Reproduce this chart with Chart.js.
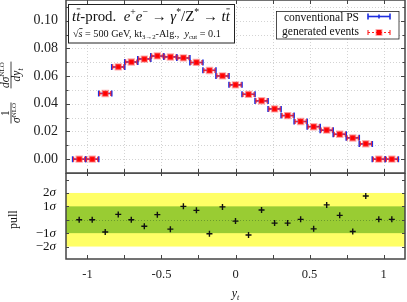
<!DOCTYPE html>
<html>
<head>
<meta charset="utf-8">
<script src="https://cdn.jsdelivr.net/npm/chart.js@4.4.1/dist/chart.umd.min.js"></script>
<style>
  html, body { margin: 0; padding: 0; background: #fff; }
  #wrap { position: relative; width: 407px; height: 302px; overflow: hidden; }
  #pullChart { position: absolute; left: 0; top: 173px; }
  #mainChart { position: absolute; left: 0; top: 0; }
</style>
</head>
<body>
<div id="wrap">
  <canvas id="pullChart" width="407" height="129"></canvas>
  <canvas id="mainChart" width="407" height="174"></canvas>
</div>
<script>
// bin centres (25 bins of width 0.088 from -1.1 to 1.1)
var binCenters = [-1.056, -0.968, -0.88, -0.792, -0.704, -0.616, -0.528, -0.44, -0.352, -0.264, -0.176, -0.088,
                  0, 0.088, 0.176, 0.264, 0.352, 0.44, 0.528, 0.616, 0.704, 0.792, 0.88, 0.968, 1.056];
var binHalfWidth = 0.044;
var convPS    = [0.000, 0.000, 0.0475, 0.0666, 0.0702, 0.0724, 0.0745, 0.0739, 0.0731, 0.0698, 0.0642, 0.0601, 0.0537,
                 0.0469, 0.0421, 0.0363, 0.0315, 0.0272, 0.0235, 0.0209, 0.0180, 0.0154, 0.0110, 0.000, 0.000];
var genEvents = [0.000, 0.000, 0.0474, 0.0667, 0.0702, 0.0723, 0.0746, 0.0738, 0.0732, 0.0699, 0.0641, 0.0602, 0.0537,
                 0.0468, 0.0422, 0.0363, 0.0315, 0.0272, 0.0234, 0.0210, 0.0180, 0.0153, 0.0111, 0.000, 0.000];
var pullValues = [0.0, 0.0, -0.91, 0.40, 0.0, -0.48, 0.38, -0.70, 1.00, 0.70, -1.05, 0.96, -0.10,
                  -1.14, 0.73, -0.25, -0.25, 0.03, -0.68, 1.11, 0.33, -0.88, 1.77, 0.03, 0.03];
var xTicks = [-1, -0.75, -0.5, -0.25, 0, 0.25, 0.5, 0.75, 1];
var yTicks = [0, 0.02, 0.04, 0.06, 0.08, 0.10];
var yGrid = [0, 0.01, 0.02, 0.03, 0.04, 0.05, 0.06, 0.07, 0.08, 0.09, 0.10, 0.11];
var pullTicks = [-2, -1, 1, 2];

var SERIF = '"Liberation Serif", "DejaVu Serif", serif';
var FRAME = '#444';

function setFont(ctx, p) {
  ctx.font = (p.it ? 'italic ' : '') + p.s + 'px ' + SERIF;
}
function richWidth(ctx, parts) {
  var w = 0;
  parts.forEach(function (p) { setFont(ctx, p); p.w = ctx.measureText(p.t).width; w += p.w; });
  return w;
}
function drawRich(ctx, x, y, parts) {
  richWidth(ctx, parts);
  var cx = x;
  parts.forEach(function (p) {
    setFont(ctx, p);
    ctx.fillText(p.t, cx, y + (p.dy || 0));
    if (p.bar) {
      ctx.beginPath();
      ctx.lineWidth = 0.8;
      ctx.moveTo(cx + p.w * 0.15, y - p.s * 0.78);
      ctx.lineTo(cx + p.w * 1.0, y - p.s * 0.78);
      ctx.stroke();
    }
    cx += p.w;
  });
}
function scaled(parts, k) {
  return parts.map(function (p) { var q = Object.assign({}, p); q.s = p.s * k; if (q.dy) q.dy = p.dy * k; return q; });
}
function fitRich(ctx, x, y, parts, target) {
  var w = richWidth(ctx, parts);
  drawRich(ctx, x, y, scaled(parts, target / w));
}
function frac(ctx, cx, num, den) {
  var wn = richWidth(ctx, num), wd = richWidth(ctx, den);
  var w = Math.max(wn, wd);
  ctx.textBaseline = 'alphabetic';
  drawRich(ctx, cx - wn / 2, -2.5, num);
  drawRich(ctx, cx - wd / 2, 9, den);
  ctx.beginPath();
  ctx.lineWidth = 0.8;
  ctx.moveTo(cx - w / 2 - 0.5, 0);
  ctx.lineTo(cx + w / 2 + 0.5, 0);
  ctx.stroke();
}

function hBar(ctx, x0, x1, y, cap) {
  ctx.beginPath();
  ctx.moveTo(x0, y); ctx.lineTo(x1, y);
  ctx.stroke();
  ctx.setLineDash([]);
  ctx.beginPath();
  ctx.moveTo(x0, y - cap); ctx.lineTo(x0, y + cap);
  ctx.moveTo(x1, y - cap); ctx.lineTo(x1, y + cap);
  ctx.moveTo((x0 + x1) / 2, y - 2); ctx.lineTo((x0 + x1) / 2, y + 2);
  ctx.stroke();
}

var mainPlugin = {
  id: 'mainPanel',
  beforeDatasetsDraw: function (chart) {
    var ctx = chart.ctx, a = chart.chartArea, xs = chart.scales.x, ys = chart.scales.y;
    ctx.save();
    // dotted grid
    ctx.strokeStyle = '#c8c8c8';
    ctx.lineWidth = 0.8;
    ctx.setLineDash([1, 2]);
    xTicks.forEach(function (v) {
      var px = Math.round(xs.getPixelForValue(v)) + 0.5;
      ctx.beginPath(); ctx.moveTo(px, a.top); ctx.lineTo(px, a.bottom); ctx.stroke();
    });
    yGrid.forEach(function (v) {
      var py = Math.round(ys.getPixelForValue(v)) + 0.5;
      ctx.beginPath(); ctx.moveTo(a.left, py); ctx.lineTo(a.right, py); ctx.stroke();
    });
    ctx.setLineDash([]);
    // error bars: conventional PS (blue) then generated events (red dashed)
    var ps = chart.data.datasets[1].data, gen = chart.data.datasets[0].data;
    ps.forEach(function (d) {
      ctx.strokeStyle = '#1f2fe0';
      ctx.lineWidth = 1.6;
      hBar(ctx, xs.getPixelForValue(d.x - binHalfWidth), xs.getPixelForValue(d.x + binHalfWidth), ys.getPixelForValue(d.y), 3);
    });
    gen.forEach(function (d) {
      ctx.strokeStyle = '#ff2020';
      ctx.lineWidth = 1.1;
      ctx.setLineDash([2, 2]);
      hBar(ctx, xs.getPixelForValue(d.x - binHalfWidth) + 1, xs.getPixelForValue(d.x + binHalfWidth) - 1, ys.getPixelForValue(d.y), 2.5);
    });
    ctx.restore();
  },
  afterDraw: function (chart) {
    var ctx = chart.ctx, a = chart.chartArea, xs = chart.scales.x, ys = chart.scales.y;
    ctx.save();
    // frame
    ctx.strokeStyle = FRAME;
    ctx.lineWidth = 1.5;
    ctx.strokeRect(a.left, a.top, a.right - a.left, a.bottom - a.top);
    ctx.lineWidth = 1;
    ctx.beginPath();
    xTicks.forEach(function (v) {
      var px = Math.round(xs.getPixelForValue(v)) + 0.5;
      ctx.moveTo(px, a.top); ctx.lineTo(px, a.top + 4);
      ctx.moveTo(px, a.bottom); ctx.lineTo(px, a.bottom - 4);
    });
    yGrid.forEach(function (v, i) {
      var py = Math.round(ys.getPixelForValue(v)) + 0.5;
      var len = i % 2 === 0 ? 4 : 2.5;
      ctx.moveTo(a.left, py); ctx.lineTo(a.left + len, py);
      ctx.moveTo(a.right, py); ctx.lineTo(a.right - len, py);
    });
    ctx.stroke();

    // title box
    ctx.fillStyle = '#fff';
    ctx.fillRect(68, 4, 166, 39);
    ctx.strokeStyle = '#222';
    ctx.lineWidth = 1;
    ctx.strokeRect(68.5, 4.5, 166, 38.5);
    ctx.fillStyle = '#111';
    ctx.strokeStyle = '#111';
    ctx.textBaseline = 'alphabetic';
    fitRich(ctx, 72, 20.5, [
      { t: 't', s: 13, it: 1 }, { t: 't', s: 13, it: 1, bar: 1 }, { t: '-prod.  ', s: 13 },
      { t: 'e', s: 13, it: 1 }, { t: '+', s: 8.5, dy: -5 }, { t: 'e', s: 13, it: 1 }, { t: '\u2212', s: 8.5, dy: -5 },
      { t: ' \u2192 ', s: 13 }, { t: '\u03b3', s: 13, it: 1 }, { t: '*', s: 8.5, dy: -5 }, { t: '/Z', s: 13 },
      { t: '*', s: 8.5, dy: -5 }, { t: ' \u2192 ', s: 13 }, { t: 't', s: 13, it: 1 }, { t: 't', s: 13, it: 1, bar: 1 }
    ], 158);
    fitRich(ctx, 73, 36.5, [
      { t: '\u221a', s: 9 }, { t: 's', s: 9, it: 1, bar: 1 }, { t: ' = 500 GeV, kt', s: 9 }, { t: '3\u21922', s: 6, dy: 2 },
      { t: '-Alg.,  ', s: 9 }, { t: 'y', s: 9, it: 1 }, { t: 'cut', s: 6, dy: 2 }, { t: ' = 0.1', s: 9 }
    ], 148);

    // legend
    ctx.fillStyle = '#fff';
    ctx.fillRect(276, 11, 123, 28);
    ctx.strokeStyle = '#222';
    ctx.strokeRect(276.5, 11.5, 122.5, 27.5);
    ctx.fillStyle = '#111';
    ctx.font = '11.5px ' + SERIF;
    ctx.textAlign = 'right';
    ctx.fillText(chart.data.datasets[1].label, 359, 20.5);
    ctx.fillText(chart.data.datasets[0].label, 359, 34.5);
    ctx.textAlign = 'left';
    ctx.strokeStyle = '#1f2fe0';
    ctx.lineWidth = 1.6;
    hBar(ctx, 368, 390, 16.5, 3);
    ctx.strokeStyle = '#ff2020';
    ctx.lineWidth = 1.1;
    ctx.setLineDash([2, 2]);
    hBar(ctx, 368, 390, 32.5, 2.5);
    ctx.fillStyle = 'rgba(255,70,70,0.45)';
    ctx.fillRect(375.5, 29, 7, 7);
    ctx.fillStyle = '#ff0000';
    ctx.fillRect(376.5, 30, 5, 5);

    // y title
    ctx.fillStyle = '#111';
    ctx.strokeStyle = '#111';
    ctx.translate(11, 88);
    ctx.rotate(-Math.PI / 2);
    frac(ctx, -25, [{ t: '1', s: 11.5 }], [{ t: '\u03c3', s: 11.5, it: 1 }, { t: 'NLO', s: 7, dy: -4.5 }]);
    frac(ctx, 13, [{ t: 'd', s: 11.5, it: 1 }, { t: '\u03c3', s: 11.5, it: 1 }, { t: 'NLO', s: 7, dy: -4.5 }],
                  [{ t: 'd', s: 11.5, it: 1 }, { t: 'y', s: 11.5, it: 1 }, { t: 't', s: 7.5, it: 1, dy: 2.5 }]);
    ctx.restore();
  }
};

var pullPlugin = {
  id: 'pullPanel',
  beforeDatasetsDraw: function (chart) {
    var ctx = chart.ctx, a = chart.chartArea, ys = chart.scales.y;
    ctx.save();
    var y2a = ys.getPixelForValue(2), y2b = ys.getPixelForValue(-2);
    var y1a = ys.getPixelForValue(1), y1b = ys.getPixelForValue(-1);
    ctx.fillStyle = '#ffff66';
    ctx.fillRect(a.left, y2a, a.right - a.left, y2b - y2a);
    ctx.fillStyle = '#99cc33';
    ctx.fillRect(a.left, y1a, a.right - a.left, y1b - y1a);
    var y0 = Math.round(ys.getPixelForValue(0)) + 0.5;
    ctx.strokeStyle = '#5f8f2a';
    ctx.lineWidth = 0.8;
    ctx.setLineDash([1, 2]);
    ctx.beginPath(); ctx.moveTo(a.left, y0); ctx.lineTo(a.right, y0); ctx.stroke();
    ctx.restore();
  },
  afterDraw: function (chart) {
    var ctx = chart.ctx, a = chart.chartArea, xs = chart.scales.x, ys = chart.scales.y;
    ctx.save();
    ctx.strokeStyle = FRAME;
    ctx.lineWidth = 1.5;
    ctx.strokeRect(a.left, a.top, a.right - a.left, a.bottom - a.top);
    ctx.lineWidth = 1;
    ctx.beginPath();
    xTicks.forEach(function (v) {
      var px = Math.round(xs.getPixelForValue(v)) + 0.5;
      ctx.moveTo(px, a.top); ctx.lineTo(px, a.top + 3);
      ctx.moveTo(px, a.bottom); ctx.lineTo(px, a.bottom - 4);
    });
    [-2, -1, 0, 1, 2, 3].forEach(function (v) {
      var py = Math.round(ys.getPixelForValue(v)) + 0.5;
      ctx.moveTo(a.left, py); ctx.lineTo(a.left + 3, py);
      ctx.moveTo(a.right, py); ctx.lineTo(a.right - 3, py);
    });
    ctx.stroke();
    // sigma labels
    ctx.fillStyle = '#111';
    ctx.textBaseline = 'middle';
    pullTicks.forEach(function (v) {
      var py = ys.getPixelForValue(v);
      var parts = [{ t: (v < 0 ? '\u2212' : '') + Math.abs(v), s: 13 }, { t: '\u03c3', s: 13, it: 1 }];
      var w = richWidth(ctx, parts);
      drawRich(ctx, 56 - w, py, parts);
    });
    // pull label
    ctx.save();
    ctx.translate(14, ys.getPixelForValue(0));
    ctx.rotate(-Math.PI / 2);
    ctx.font = '12px ' + SERIF;
    ctx.textAlign = 'center';
    ctx.fillText('pull', 0, 0);
    ctx.restore();
    // x title
    ctx.textBaseline = 'alphabetic';
    var tp = [{ t: 'y', s: 12, it: 1 }, { t: 't', s: 8, it: 1, dy: 2.5 }];
    var tw = richWidth(ctx, tp);
    drawRich(ctx, xs.getPixelForValue(0) - tw / 2, 124, tp);
    ctx.restore();
  }
};

new Chart(document.getElementById('mainChart'), {
  type: 'scatter',
  data: {
    datasets: [
      {
        label: 'generated events',
        data: binCenters.map(function (x, i) { return { x: x, y: genEvents[i] }; }),
        pointStyle: 'rect',
        pointRadius: 3.8,
        pointBackgroundColor: '#ff0000',
        pointBorderColor: 'rgba(255,70,70,0.45)',
        pointBorderWidth: 2
      },
      {
        label: 'conventional PS',
        data: binCenters.map(function (x, i) { return { x: x, y: convPS[i] }; }),
        pointRadius: 0
      }
    ]
  },
  options: {
    responsive: false,
    animation: false,
    events: [],
    layout: { autoPadding: false, padding: { left: 0, right: 2, top: 0, bottom: 1 } },
    plugins: { legend: { display: false }, title: { display: false }, tooltip: { enabled: false } },
    scales: {
      x: {
        type: 'linear', min: -1.145, max: 1.145,
        grid: { display: false, drawTicks: false }, border: { display: false },
        ticks: { display: false },
        afterBuildTicks: function (s) { s.ticks = xTicks.map(function (v) { return { value: v }; }); },
        afterFit: function (s) { s.height = 0; s.paddingLeft = 0; s.paddingRight = 0; }
      },
      y: {
        min: -0.01, max: 0.115,
        grid: { display: false, drawTicks: false }, border: { display: false },
        ticks: {
          font: { family: 'Liberation Serif', size: 14 }, color: '#222', padding: 8,
          callback: function (v) { return v.toFixed(2); }
        },
        afterBuildTicks: function (s) { s.ticks = yTicks.map(function (v) { return { value: v }; }); },
        afterFit: function (s) { s.width = 66; s.paddingTop = 0; s.paddingBottom = 0; }
      }
    }
  },
  plugins: [mainPlugin]
});

new Chart(document.getElementById('pullChart'), {
  type: 'scatter',
  data: {
    datasets: [{
      label: 'pull',
      data: binCenters.map(function (x, i) { return { x: x, y: pullValues[i] }; }),
      pointStyle: 'cross',
      pointRadius: 3,
      pointBorderColor: '#111',
      pointBorderWidth: 1.4
    }]
  },
  options: {
    responsive: false,
    animation: false,
    events: [],
    layout: { autoPadding: false, padding: { left: 0, right: 2, top: 0, bottom: 0 } },
    plugins: { legend: { display: false }, title: { display: false }, tooltip: { enabled: false } },
    scales: {
      x: {
        type: 'linear', min: -1.145, max: 1.145,
        grid: { display: false, drawTicks: false }, border: { display: false },
        ticks: {
          font: { family: 'Liberation Serif', size: 12.5 }, color: '#222', padding: 8, maxRotation: 0,
          callback: function (v) { return (v * 2) % 1 === 0 ? String(v) : ''; }
        },
        afterBuildTicks: function (s) { s.ticks = xTicks.map(function (v) { return { value: v }; }); },
        afterFit: function (s) { s.height = 43; s.paddingLeft = 0; s.paddingRight = 0; }
      },
      y: {
        min: -2.93, max: 3.49,
        grid: { display: false, drawTicks: false }, border: { display: false },
        ticks: { display: false },
        afterFit: function (s) { s.width = 66; s.paddingTop = 0; s.paddingBottom = 0; }
      }
    }
  },
  plugins: [pullPlugin]
});
</script>
</body>
</html>
